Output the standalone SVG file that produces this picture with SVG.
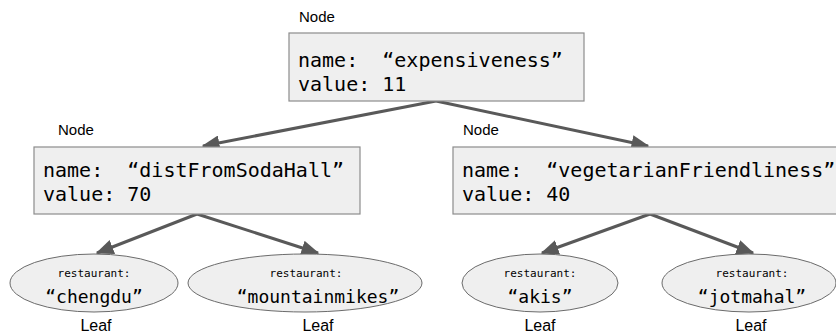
<svg xmlns="http://www.w3.org/2000/svg" width="836" height="335" viewBox="0 0 836 335">
  <defs>
    <marker id="arrow" viewBox="0 0 12 10" refX="11" refY="5" markerWidth="6" markerHeight="5" orient="auto" markerUnits="strokeWidth">
      <path d="M0,0 L12,5 L0,10 z" fill="#595959"/>
    </marker>
    <style>
      .box { fill: #efefef; stroke: #8c8c8c; stroke-width: 1.2; }
      .leaf { fill: #efefef; stroke: #6b6b6b; stroke-width: 1; }
      .code { font-family: "DejaVu Sans Mono", "Liberation Mono", monospace; font-size: 20px; fill: #000; white-space: pre; }
      .name { font-family: "DejaVu Sans Mono", "Liberation Mono", monospace; font-size: 18px; fill: #000; text-anchor: middle; }
      .small { font-family: "DejaVu Sans Mono", "Liberation Mono", monospace; font-size: 11px; fill: #000; text-anchor: middle; }
      .label { font-family: "Liberation Sans", Arial, sans-serif; font-size: 15px; fill: #000; }
      .mid { text-anchor: middle; font-size: 16px; }
      .edge { stroke: #595959; stroke-width: 3; fill: none; marker-end: url(#arrow); }
    </style>
  </defs>

  <g id="connectors">
    <line class="edge" x1="436" y1="101" x2="203" y2="146"/>
    <line class="edge" x1="436" y1="101" x2="648" y2="146"/>
    <line class="edge" x1="197" y1="214" x2="97" y2="253"/>
    <line class="edge" x1="197" y1="214" x2="318" y2="253"/>
    <line class="edge" x1="650" y1="214" x2="542" y2="253"/>
    <line class="edge" x1="650" y1="214" x2="753" y2="253"/>
  </g>

  <g id="node-expensiveness">
    <text class="label" x="299" y="22">Node</text>
    <rect class="box" x="289" y="33" width="295" height="68"/>
    <text class="code" x="298" y="67" xml:space="preserve">name:  “expensiveness”</text>
    <text class="code" x="298" y="91">value: 11</text>
  </g>

  <g id="node-distFromSodaHall">
    <text class="label" x="58" y="135">Node</text>
    <rect class="box" x="34" y="147" width="326" height="67"/>
    <text class="code" x="43" y="177" xml:space="preserve">name:  “distFromSodaHall”</text>
    <text class="code" x="43" y="201">value: 70</text>
  </g>

  <g id="node-vegetarianFriendliness">
    <text class="label" x="463" y="135">Node</text>
    <rect class="box" x="453" y="147" width="400" height="67"/>
    <text class="code" x="462" y="177" xml:space="preserve">name:  “vegetarianFriendliness”</text>
    <text class="code" x="462" y="201">value: 40</text>
  </g>

  <g id="leaf-chengdu">
    <ellipse class="leaf" cx="94" cy="283" rx="84" ry="29"/>
    <text class="small" x="94" y="277">restaurant:</text>
    <text class="name" x="94" y="303">“chengdu”</text>
    <text class="label mid" x="96" y="331">Leaf</text>
  </g>

  <g id="leaf-mountainmikes">
    <ellipse class="leaf" cx="305" cy="283" rx="117" ry="29"/>
    <text class="small" x="306" y="277">restaurant:</text>
    <text class="name" x="318" y="303">“mountainmikes”</text>
    <text class="label mid" x="318" y="331">Leaf</text>
  </g>

  <g id="leaf-akis">
    <ellipse class="leaf" cx="540" cy="283" rx="78" ry="29"/>
    <text class="small" x="540" y="277">restaurant:</text>
    <text class="name" x="540" y="303">“akis”</text>
    <text class="label mid" x="540" y="331">Leaf</text>
  </g>

  <g id="leaf-jotmahal">
    <ellipse class="leaf" cx="749" cy="283" rx="87" ry="29"/>
    <text class="small" x="752" y="277">restaurant:</text>
    <text class="name" x="752" y="303">“jotmahal”</text>
    <text class="label mid" x="751" y="331">Leaf</text>
  </g>
</svg>
